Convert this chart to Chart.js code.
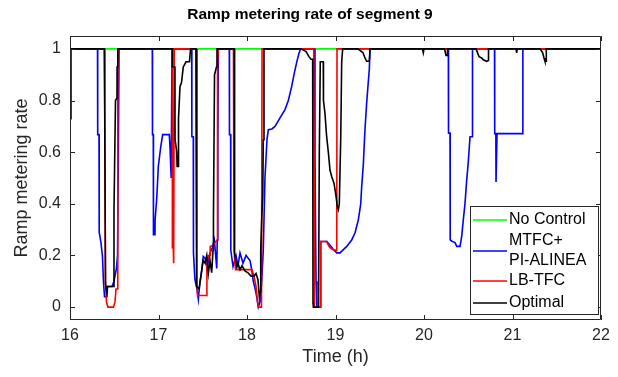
<!DOCTYPE html>
<html><head><meta charset="utf-8">
<script src="https://cdn.jsdelivr.net/npm/chart.js@4"></script>
<style>html,body{margin:0;padding:0;background:#fff}#wrap{width:618px;height:377px}</style>
</head><body><div id="wrap"><canvas id="c" width="618" height="377"></canvas></div>
<script>
const titleText = 'Ramp metering rate of segment 9';
const xLabel = 'Time (h)';
const yLabel = 'Ramp metering rate';
const seriesNames = ['No Control', ['MTFC+', 'PI-ALINEA'], 'LB-TFC', 'Optimal'];
const seriesColors = ['#00ff00', '#0000ff', '#ff0000', '#000000'];
const xTicks = [16, 17, 18, 19, 20, 21, 22];
const yTicks = [0, 0.2, 0.4, 0.6, 0.8, 1];
const yTickLabels = ['0', '0.2', '0.4', '0.6', '0.8', '1'];

const noControlT = [16, 22];
const noControlV = [1, 1];

const mtfcT = [16, 16.311, 16.313, 16.328, 16.33, 16.35, 16.367, 16.378, 16.39, 16.418, 16.424, 16.475, 16.497, 16.525, 16.537, 16.546, 16.554,
  16.93, 16.932, 16.941, 16.943, 16.96, 16.962, 16.98, 16.998, 17.025, 17.047, 17.122, 17.13, 17.141, 17.143, 17.153,
  17.375, 17.377, 17.393, 17.395, 17.412, 17.435, 17.45, 17.469, 17.492, 17.506, 17.525, 17.548, 17.582, 17.608, 17.631, 17.658, 17.664, 17.67, 17.676,
  17.8, 17.802, 17.815, 17.817, 17.842, 17.876, 17.898, 17.921, 17.955, 17.989, 18.034, 18.053, 18.071, 18.09, 18.11, 18.128, 18.147, 18.166, 18.184, 18.203, 18.226,
  18.241, 18.282, 18.316, 18.373, 18.429, 18.467, 18.505, 18.535, 18.56, 18.588, 18.607,
  18.763, 18.768, 18.78, 18.79, 18.825, 18.833, 18.904, 18.972, 19.014, 19.051, 19.127, 19.183, 19.22, 19.258, 19.285, 19.296, 19.314, 19.333, 19.352, 19.37, 19.382, 19.39,
  20.275, 20.277, 20.294, 20.296, 20.316, 20.35, 20.37, 20.407, 20.426, 20.444, 20.463, 20.482, 20.5, 20.52, 20.546, 20.548,
  20.797, 20.799, 20.812, 20.814, 20.823, 20.825, 21.115, 21.117, 22];
const mtfcV = [1, 1, 0.668, 0.668, 0.29, 0.25, 0.196, 0.1, 0.04, 0.04, 0.08, 0.08, 0.1, 0.15, 0.2, 0.58, 1,
  1, 0.668, 0.668, 0.28, 0.28, 0.34, 0.42, 0.545, 0.62, 0.668, 0.668, 0.62, 0.62, 0.5, 1,
  1, 0.66, 0.66, 0.21, 0.106, 0.07, 0.03, 0.1, 0.15, 0.196, 0.19, 0.15, 0.21, 0.23, 0.26, 0.15, 0.26, 0.6, 1,
  1, 0.668, 0.668, 0.22, 0.157, 0.2, 0.16, 0.21, 0.17, 0.2, 0.18, 0.145, 0.1, 0.075, 0.04, 0, 0.02, 0.1, 0.22, 0.5, 0.65,
  0.687, 0.69, 0.7, 0.733, 0.765, 0.8, 0.855, 0.907, 0.946, 0.984, 1,
  1, 0.58, 0.1, 0, 0, 0.254, 0.254, 0.225, 0.21, 0.21, 0.235, 0.26, 0.287, 0.338, 0.4, 0.467, 0.55, 0.687, 0.79, 0.87, 0.92, 1,
  1, 0.674, 0.674, 0.26, 0.255, 0.25, 0.235, 0.235, 0.274, 0.338, 0.4, 0.49, 0.56, 0.66, 0.66, 1,
  1, 0.672, 0.672, 0.485, 0.485, 0.672, 0.672, 1, 1];

const lbtfcT = [16, 16.39, 16.401, 16.412, 16.429, 16.492, 16.508, 16.52, 16.534, 16.54,
  17.156, 17.157, 17.167, 17.168, 17.175, 17.178,
  17.424, 17.433, 17.441, 17.545, 17.547, 17.563, 17.582, 17.584, 17.616, 17.638, 17.664, 17.667, 17.676,
  17.847, 17.853, 17.87, 18.056, 18.079, 18.102, 18.119, 18.128, 18.164, 18.17,
  18.754, 18.763, 18.828, 18.833, 18.9, 18.919, 18.938, 18.972, 19.014, 19.017, 22];
const lbtfcV = [1, 1, 0.1, 0.02, 0, 0, 0.02, 0.07, 0.07, 1,
  1, 0.23, 0.23, 0.17, 0.17, 1,
  1, 0.1, 0.045, 0.045, 0.16, 0.2, 0.2, 0.235, 0.24, 0.25, 0.26, 0.946, 1,
  1, 0.22, 0.145, 0.145, 0.12, 0.08, 0.02, 0, 0, 1,
  1, 0, 0, 0.254, 0.254, 0.24, 0.23, 0.222, 0.22, 1, 1];

const optimalT = [16, 16.011, 16.388, 16.389, 16.395, 16.401, 16.415, 16.424, 16.492, 16.497, 16.514, 16.531, 16.532, 16.54,
  17.156, 17.158, 17.186, 17.187, 17.206, 17.21, 17.224, 17.226, 17.243, 17.26, 17.28, 17.311, 17.35, 17.362,
  17.424, 17.427, 17.435, 17.458, 17.48, 17.503, 17.525, 17.545, 17.563, 17.582, 17.601, 17.616, 17.621, 17.633, 17.655, 17.661,
  17.856, 17.86, 17.884, 17.898, 17.921, 17.944, 17.977, 18.011, 18.045, 18.079, 18.102, 18.124, 18.139, 18.147, 18.155, 18.166, 18.178, 18.184, 18.192,
  18.61, 18.667, 18.7, 18.723, 18.742, 18.746, 18.75, 18.808, 18.817, 18.828, 18.862, 18.864, 18.881, 18.9, 18.919, 18.938, 18.957, 18.983, 19.006, 19.02, 19.032, 19.043, 19.059, 19.07, 19.081,
  19.254, 19.311, 19.333, 19.352, 19.382, 19.39,
  19.983, 19.992, 20.0, 20.232, 20.249, 20.263, 20.266,
  20.588, 20.622, 20.652, 20.67, 20.708, 20.727, 20.729,
  21.04, 21.047, 21.054, 21.311, 21.341, 21.356, 21.367, 21.379, 21.382, 22];
const optimalV = [0.73, 1, 1, 0.78, 0.78, 0.09, 0.06, 0.08, 0.08, 0.37, 0.8, 0.81, 0.93, 1,
  1, 0.93, 0.93, 0.65, 0.6, 0.545, 0.545, 0.73, 0.855, 0.87, 0.93, 0.95, 0.95, 1,
  1, 0.13, 0.08, 0.07, 0.12, 0.18, 0.17, 0.2, 0.13, 0.18, 0.133, 0.22, 0.35, 0.9, 0.93, 1,
  1, 0.21, 0.157, 0.17, 0.145, 0.16, 0.14, 0.133, 0.12, 0.12, 0.13, 0.106, 0.04, 0.06, 0.22, 0.34, 0.43, 0.648, 1,
  1, 0.99, 0.97, 0.96, 0.96, 0.015, 0, 0, 0.6, 0.95, 0.95, 0.8, 0.75, 0.66, 0.6, 0.53, 0.506, 0.48, 0.43, 0.39, 0.377, 0.4, 0.65, 0.95, 1,
  1, 0.985, 0.965, 0.952, 0.952, 1,
  1, 0.985, 1, 1, 0.975, 0.975, 1,
  1, 0.97, 0.965, 0.958, 0.952, 0.955, 1,
  1, 0.985, 1, 1, 0.985, 0.965, 0.952, 0.952, 1, 1];

const zip = (t, v) => t.map((x, i) => ({x: x, y: v[i]}));
const seriesData = [zip(noControlT, noControlV), zip(mtfcT, mtfcV), zip(lbtfcT, lbtfcV), zip(optimalT, optimalV)];

const axisColor = '#262626';
const FONT = '"Liberation Sans", Arial, Helvetica, sans-serif';

const decor = {
  id: 'decor',
  afterDatasetsDraw(chart) {
    const ctx = chart.ctx, a = chart.chartArea;
    const xs = chart.scales.x, ys = chart.scales.y;
    ctx.save();
    ctx.strokeStyle = axisColor;
    ctx.lineWidth = 1;
    ctx.beginPath();
    ctx.rect(a.left + 0.5, a.top + 0.5, a.right - a.left - 1, a.bottom - a.top - 1);
    ctx.stroke();
    const tl = 5;
    ctx.beginPath();
    xTicks.forEach(v => {
      const px = Math.round(xs.getPixelForValue(v)) + 0.5;
      ctx.moveTo(px, a.bottom); ctx.lineTo(px, a.bottom - tl);
      ctx.moveTo(px, a.top); ctx.lineTo(px, a.top + tl);
    });
    yTicks.forEach(v => {
      const py = Math.round(ys.getPixelForValue(v)) + 0.5;
      ctx.moveTo(a.left, py); ctx.lineTo(a.left + tl, py);
      ctx.moveTo(a.right, py); ctx.lineTo(a.right - tl, py);
    });
    ctx.stroke();
    // title
    ctx.fillStyle = '#000';
    ctx.font = 'bold 15.5px ' + FONT;
    ctx.textAlign = 'center';
    ctx.textBaseline = 'middle';
    ctx.fillText(titleText, 310, 15);
    // legend
    const lx = 470.5, ly = 206.5, lw = 128, lh = 108;
    ctx.fillStyle = '#fff';
    ctx.fillRect(lx, ly, lw, lh);
    ctx.strokeStyle = axisColor;
    ctx.lineWidth = 1;
    ctx.strokeRect(lx, ly, lw, lh);
    const rows = [220, 251, 281, 303];
    ctx.font = '16px ' + FONT;
    ctx.textAlign = 'left';
    seriesNames.forEach((name, i) => {
      const y = rows[i];
      ctx.strokeStyle = seriesColors[i];
      ctx.lineWidth = 1.6;
      ctx.beginPath();
      ctx.moveTo(473, y); ctx.lineTo(507, y);
      ctx.stroke();
      ctx.fillStyle = '#000';
      if (Array.isArray(name)) {
        ctx.fillText(name[0], 509, y - 10);
        ctx.fillText(name[1], 509, y + 10);
      } else {
        ctx.fillText(name, 509, y);
      }
    });
    ctx.restore();
  }
};

new Chart(document.getElementById('c'), {
  type: 'line',
  data: {
    datasets: seriesData.map((d, i) => ({
      label: Array.isArray(seriesNames[i]) ? seriesNames[i].join(' ') : seriesNames[i],
      data: d,
      borderColor: seriesColors[i],
      backgroundColor: seriesColors[i],
      borderWidth: 1.6,
      pointRadius: 0,
      tension: 0,
      fill: false,
      order: 4 - i
    }))
  },
  options: {
    responsive: false,
    animation: false,
    devicePixelRatio: 1,
    layout: {padding: {top: 36, right: 17, left: 0, bottom: 0}},
    plugins: {legend: {display: false}, title: {display: false}, tooltip: {enabled: false}},
    scales: {
      x: {
        type: 'linear', min: 16, max: 22,
        afterBuildTicks: s => { s.ticks = xTicks.map(v => ({value: v})); },
        afterFit: s => { s.height = 57; },
        grid: {display: false, drawTicks: false},
        border: {display: false},
        ticks: {color: axisColor, font: {family: FONT, size: 16}, padding: 6, maxRotation: 0, callback: v => String(v)},
        title: {display: true, text: xLabel, color: axisColor, font: {family: FONT, size: 18}, padding: {top: 0, bottom: 9}}
      },
      y: {
        type: 'linear', min: -0.05, max: 1.05,
        afterBuildTicks: s => { s.ticks = yTicks.map(v => ({value: v})); },
        afterFit: s => { s.width = 70; },
        grid: {display: false, drawTicks: false},
        border: {display: false},
        ticks: {color: axisColor, font: {family: FONT, size: 16}, padding: 9, callback: (v) => { const k = yTicks.indexOf(v); return k >= 0 ? yTickLabels[k] : ''; }},
        title: {display: true, text: yLabel, color: axisColor, font: {family: FONT, size: 18}, padding: {top: 11, bottom: 0}}
      }
    }
  },
  plugins: [decor]
});
</script></body></html>
